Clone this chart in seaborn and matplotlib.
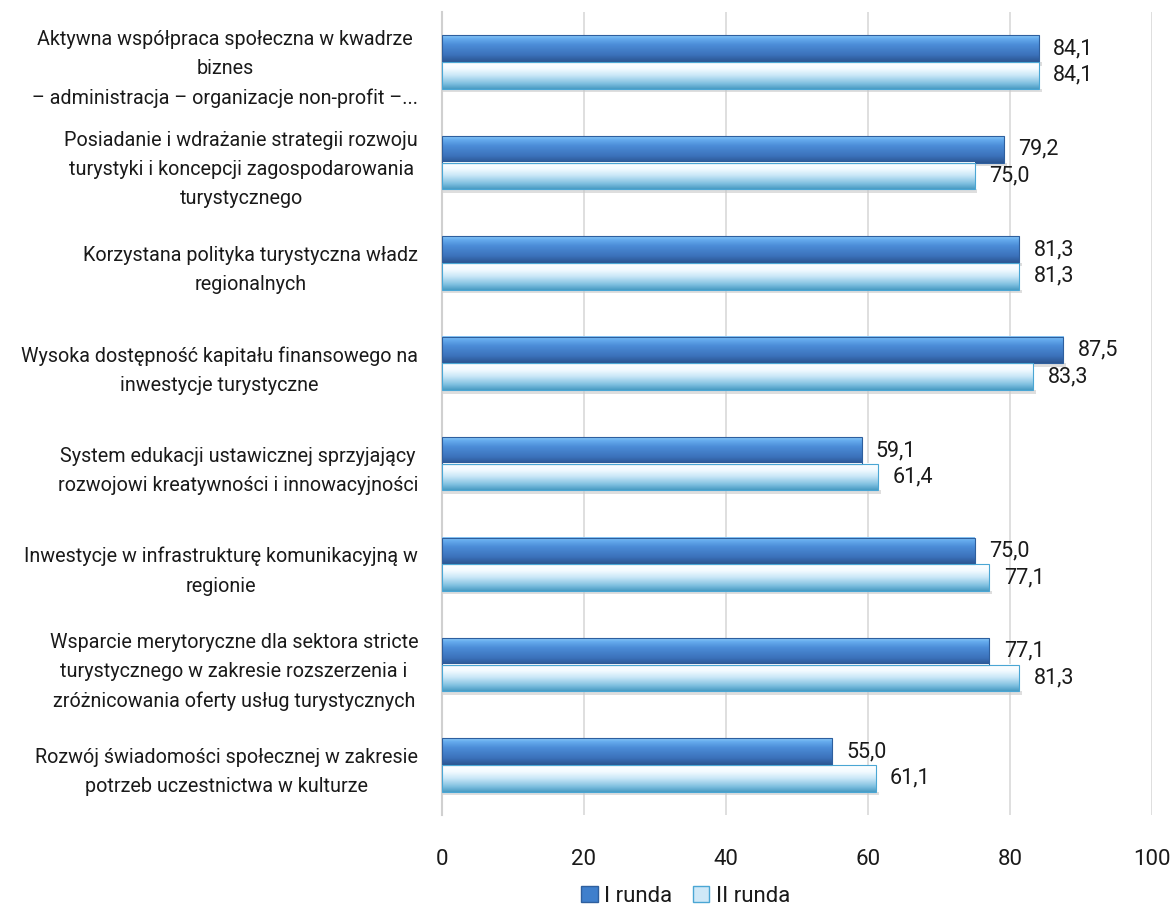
import numpy as np
import pandas as pd
import matplotlib
matplotlib.use("Agg")
import matplotlib.pyplot as plt
import seaborn as sns
from matplotlib.colors import LinearSegmentedColormap
from matplotlib.patches import Patch

categories = [
    "Aktywna współpraca społeczna w kwadrze\nbiznes\n– administracja – organizacje non-profit –...",
    "Posiadanie i wdrażanie strategii rozwoju\nturystyki i koncepcji zagospodarowania\nturystycznego",
    "Korzystana polityka turystyczna władz\nregionalnych",
    "Wysoka dostępność kapitału finansowego na\ninwestycje turystyczne",
    "System edukacji ustawicznej sprzyjający\nrozwojowi kreatywności i innowacyjności",
    "Inwestycje w infrastrukturę komunikacyjną w\nregionie",
    "Wsparcie merytoryczne dla sektora stricte\nturystycznego w zakresie rozszerzenia i\nzróżnicowania oferty usług turystycznych",
    "Rozwój świadomości społecznej w zakresie\npotrzeb uczestnictwa w kulturze",
]
runda_1 = [84.1, 79.2, 81.3, 87.5, 59.1, 75.0, 77.1, 55.0]
runda_2 = [84.1, 75.0, 81.3, 83.3, 61.4, 77.1, 81.3, 61.1]
series = ["I runda", "II runda"]
x_ticks = [0, 20, 40, 60, 80, 100]

df = pd.DataFrame({
    "cat": categories * 2,
    "val": runda_1 + runda_2,
    "ser": [series[0]] * len(categories) + [series[1]] * len(categories),
})

sns.set_theme(style="white")
plt.rcParams["font.family"] = ["Roboto", "DejaVu Sans"]
TXT = "#1a1a1a"
W = "normal"

fig = plt.figure(figsize=(11.72, 9.13), dpi=100)
ax = fig.add_axes([0.377, 0.107, 0.606, 0.88])

sns.barplot(data=df, y="cat", x="val", hue="ser", orient="h", ax=ax,
            width=0.53, palette=["#3f7fcc", "#cfe8f7"], legend=False,
            edgecolor="none", linewidth=0)

cmap_dark = LinearSegmentedColormap.from_list(
    "dark", [(0.0, "#8ccaf7"), (0.12, "#66acee"), (0.35, "#4c8dd8"),
             (0.75, "#3b71ba"), (1.0, "#2b5590")])
cmap_light = LinearSegmentedColormap.from_list(
    "light", [(0.0, "#ffffff"), (0.25, "#f2faff"), (0.5, "#c8e6f7"),
              (0.8, "#7fc0e0"), (1.0, "#4a9cc4")])
grad = np.linspace(0, 1, 64).reshape(-1, 1)

for cont, cmap, edge in zip(ax.containers, [cmap_dark, cmap_light], ["#2e5f9e", "#4aa6d4"]):
    for bar in cont:
        x0, y0 = bar.get_x(), bar.get_y()
        w, h = bar.get_width(), bar.get_height()
        ax.fill_between([x0, x0 + w + 0.4], y0 + h, y0 + h + 0.035,
                        color="#c8c8c8", alpha=0.6, lw=0, zorder=2)
        ax.imshow(grad, cmap=cmap, extent=(x0, x0 + w, y0 + h, y0),
                  aspect="auto", origin="upper", zorder=3, interpolation="bilinear")
        ax.add_patch(plt.Rectangle((x0, y0), w, h, fill=False, edgecolor=edge,
                                   linewidth=0.8, zorder=4))
        bar.set_visible(False)

for cont, vals in zip(ax.containers, [runda_1, runda_2]):
    for bar, v in zip(cont, vals):
        yc = bar.get_y() + bar.get_height() / 2
        ax.text(bar.get_x() + bar.get_width() + 2.0, yc,
                f"{v:.1f}".replace(".", ","), va="center", ha="left",
                fontsize=15.5, fontweight=W, color=TXT, zorder=5)

ax.set_xlim(0, 100)
ax.set_ylim(len(categories) - 0.5, -0.5)
ax.set_xticks(x_ticks)
ax.set_xticklabels([str(t) for t in x_ticks], fontsize=16, fontweight=W, color=TXT)
ax.tick_params(axis="x", length=0, pad=24)
ax.tick_params(axis="y", length=0, pad=17)
for lab in ax.get_yticklabels():
    lab.set_fontsize(14.2)
    lab.set_fontweight(W)
    lab.set_color(TXT)
    lab.set_multialignment("center")
    lab.set_linespacing(1.68)
ax.grid(axis="x", color="#d9d9d9", linewidth=1.2, zorder=0)
ax.set_axisbelow(True)
for s in ["top", "right", "bottom"]:
    ax.spines[s].set_visible(False)
ax.spines["left"].set_color("#d0d0d0")
ax.spines["left"].set_linewidth(1.5)
ax.set_xlabel("")
ax.set_ylabel("")

handles = [Patch(facecolor="#3f7fcc", edgecolor="#2e5f9e"),
           Patch(facecolor="#cfe8f7", edgecolor="#4aa6d4")]
leg = fig.legend(handles, series, loc="center", bbox_to_anchor=(0.585, 0.018), ncol=2,
                 frameon=False, handlelength=0.75, handleheight=0.75,
                 handletextpad=0.3, columnspacing=0.9,
                 prop={"family": ["Roboto", "DejaVu Sans"], "size": 16, "weight": W})
for t in leg.get_texts():
    t.set_color(TXT)

fig.savefig("out.png", dpi=100)
